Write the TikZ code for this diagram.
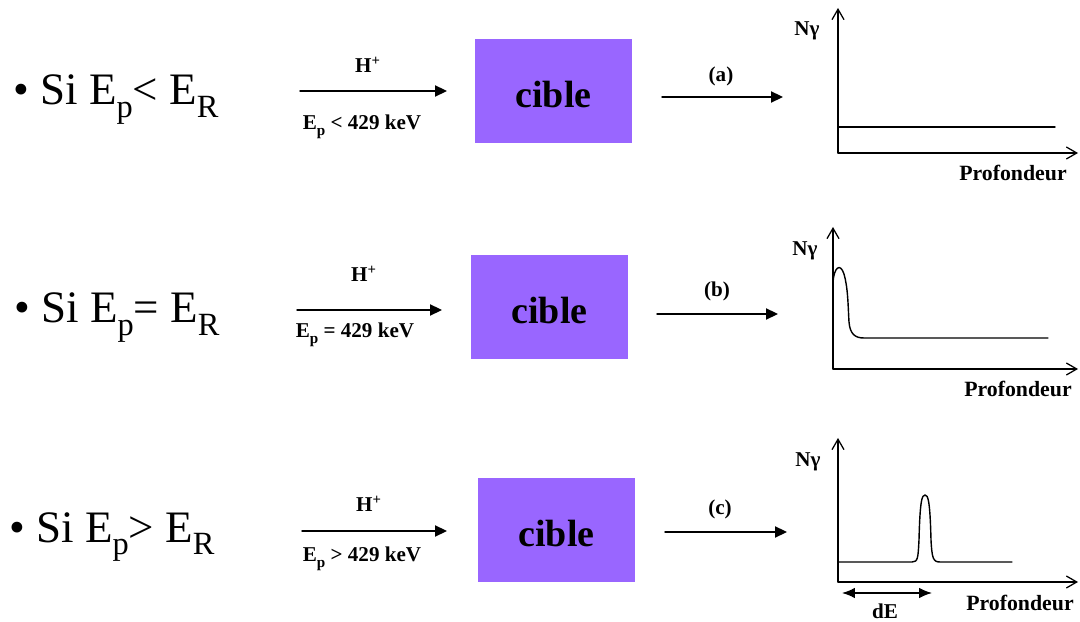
\documentclass[tikz,border=0pt]{standalone}
\usepackage{fontspec}
\setmainfont{Liberation Serif}
\usepackage{graphicx}
\usetikzlibrary{arrows.meta}
\definecolor{ciblecol}{HTML}{9966FF}
\newcommand\idx[1]{\raisebox{-0.27em}{\scalebox{0.72}{#1}}}

\begin{document}
\begin{tikzpicture}[x=0.025cm, y=-0.025cm, line join=round, line cap=round,
	cond/.style={anchor=base west, inner sep=0pt, font=\fontsize{32}{36}\selectfont},
	lab/.style={anchor=base, inner sep=0pt, font=\fontsize{15}{17}\selectfont\bfseries},
	axlab/.style={anchor=base, inner sep=0pt, font=\fontsize{15.5}{17}\selectfont\bfseries},
	cible/.style={fill=ciblecol, inner sep=0pt, minimum width=3.925cm, minimum height=2.6cm,
		text height=24pt, text depth=0pt, font=\fontsize{27}{30}\selectfont\bfseries},
	beam/.style={line width=1pt, -{Triangle[length=3mm, width=2.8mm]}},
	axe/.style={line width=0.9pt, -{Straight Barb[length=2.6mm, width=3mm]}},
	courbe/.style={line width=1pt}]
	\useasboundingbox (0,0) rectangle (1080,622);
	% --- Ep < ER
	\node[cond] (cond1) at (13,105) {\textbullet\ Si E\idx{p}< E\idx{R}};
	\coordinate (src1) at (300,91);
	\node[cible] (box1) at (553.5,91) {cible};
	\draw[beam] (src1) -- (447,91) coordinate (tgt1);
	\node[lab] (h1) at (368,73) {H\textsuperscript{+}};
	\node[lab] (e1) at (362,130) {E\idx{p} < 429 keV};
	\coordinate (out1) at (662,97);
	\draw[beam] (out1) -- (783,97) coordinate (res1);
	\node[lab] (a) at (721,82) {(a)};
	\coordinate (o1) at (838,153);
	\draw[axe] (o1) -- (838,8) coordinate (y1);
	\draw[axe] (o1) -- (1078,153) coordinate (x1);
	\draw[courbe] (838,127) -- (1055,127);
	\node[lab] (n1) at (807,36) {Nγ};
	\node[axlab] (p1) at (1013,181) {Profondeur};
	% --- Ep = ER
	\node[cond] (cond2) at (14,323) {\textbullet\ Si E\idx{p}= E\idx{R}};
	\coordinate (src2) at (297,310);
	\node[cible] (box2) at (549.5,307) {cible};
	\draw[beam] (src2) -- (442,310) coordinate (tgt2);
	\node[lab] (h2) at (364,282) {H\textsuperscript{+}};
	\node[lab] (e2) at (355,338) {E\idx{p} = 429 keV};
	\coordinate (out2) at (657,314);
	\draw[beam] (out2) -- (778,314) coordinate (res2);
	\node[lab] (b) at (717,297) {(b)};
	\coordinate (o2) at (833,369);
	\draw[axe] (o2) -- (833,227) coordinate (y2);
	\draw[axe] (o2) -- (1078,369) coordinate (x2);
	\draw[courbe] (833,282) .. controls (834,268) and (840,262) .. (844,274)
		.. controls (848,288) and (848,305) .. (849,322)
		.. controls (850,334) and (855,338) .. (864,338) -- (1048,338);
	\node[lab] (n2) at (805,256) {Nγ};
	\node[axlab] (p2) at (1018,397) {Profondeur};
	% --- Ep > ER
	\node[cond] (cond3) at (9,542) {\textbullet\ Si E\idx{p}> E\idx{R}};
	\coordinate (src3) at (302,531);
	\node[cible] (box3) at (556.5,530) {cible};
	\draw[beam] (src3) -- (447,531) coordinate (tgt3);
	\node[lab] (h3) at (369,512) {H\textsuperscript{+}};
	\node[lab] (e3) at (362,562) {E\idx{p} > 429 keV};
	\coordinate (out3) at (665,532);
	\draw[beam] (out3) -- (787,532) coordinate (res3);
	\node[lab] (c) at (720,515) {(c)};
	\coordinate (o3) at (838,582);
	\draw[axe] (o3) -- (838,438) coordinate (y3);
	\draw[axe] (o3) -- (1078,582) coordinate (x3);
	\draw[courbe] (838,562) -- (912,562) .. controls (918,562) and (918,558) .. (919,540)
		.. controls (920,500) and (922,495) .. (925,495)
		.. controls (928,495) and (930,500) .. (931,540)
		.. controls (932,558) and (933,562) .. (940,562) -- (1012,562);
	\coordinate (d0) at (842,593);
	\draw[line width=1pt, {Latex[length=3.2mm, width=2.6mm]}-{Latex[length=3.2mm, width=2.6mm]}] (d0) -- (932,593) coordinate (d1);
	\node[lab] (de) at (885,619) {dE};
	\node[lab] (n3) at (808,467) {Nγ};
	\node[axlab] (p3) at (1020,611) {Profondeur};
\end{tikzpicture}
\end{document}
